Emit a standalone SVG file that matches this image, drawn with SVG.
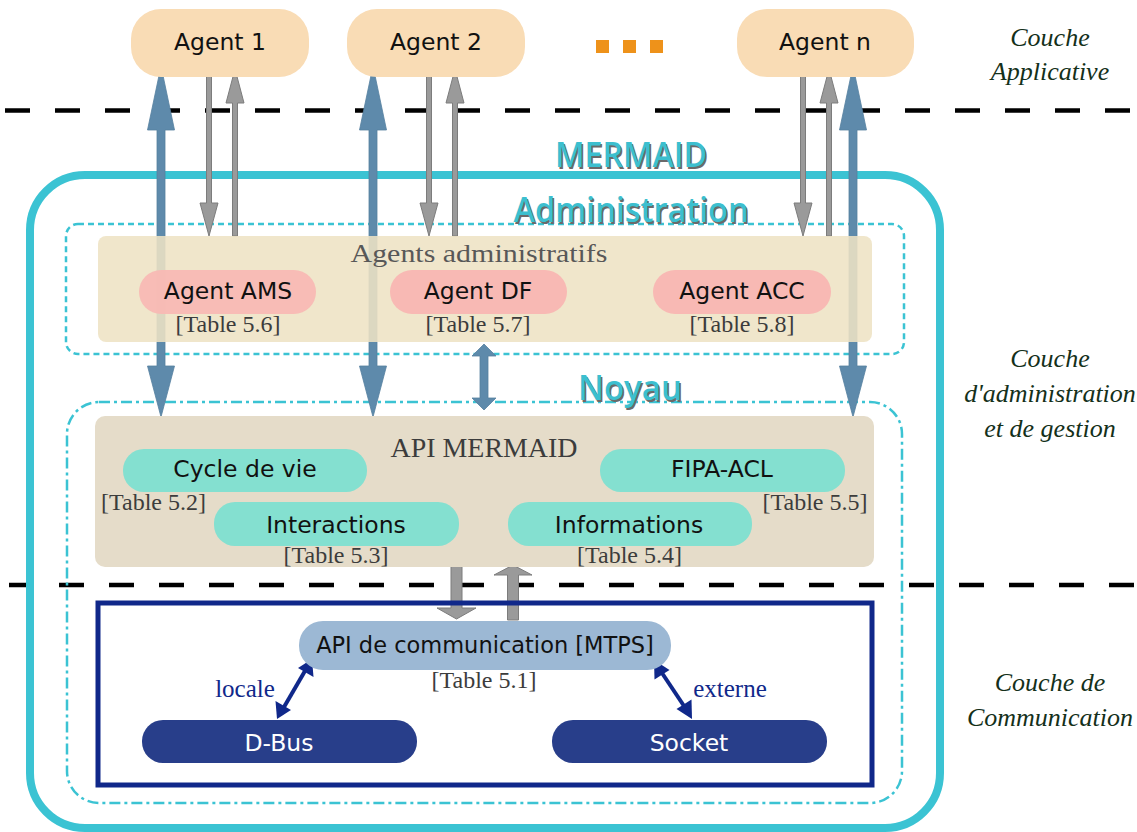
<svg xmlns="http://www.w3.org/2000/svg" width="1137" height="832" viewBox="0 0 1137 832">
<style>
.sans{font-family:"DejaVu Sans","Liberation Sans",sans-serif;font-size:23.5px;fill:#111;text-anchor:middle}
.serif{font-family:"Liberation Serif","DejaVu Serif",serif;fill:#3c3c3c;text-anchor:middle}
.tbl{font-size:24px}
.side{font-family:"Liberation Serif","DejaVu Serif",serif;font-style:italic;font-size:26px;fill:#14301a;text-anchor:middle}
.ttl{font-family:"Open Sans","Lato",sans-serif;font-weight:600;font-size:34px;text-anchor:middle}
.ttlsh{fill:#6a6a6a}
.ttlfg{fill:#3cbfcf}
.dash{stroke:#000;stroke-width:4.5;stroke-dasharray:25 25;fill:none}
.agent{fill:#f9dcb5}
.adm{fill:#f8b9b4}
.api{fill:#84e0d0}
.navy{fill:#283e8a}
.blue{fill:#5e8aab;stroke:#55809f;stroke-width:0.8}
.gray{fill:#9a9a9a;stroke:#7c7c7c;stroke-width:1}
.nav{fill:#10288a}
</style>
<defs>
<path id="bluearrow" d="M-4,130 L-13.5,130 L0,66 L13.5,130 L4,130 L4,366 L13.5,366 L0,417 L-13.5,366 L-4,366 Z"/>
<path id="graydown" d="M-2.5,69 L2.5,69 L2.5,203 L9,203 L0,236 L-9,203 L-2.5,203 Z"/>
<path id="grayup" d="M0,69 L9,103 L2.5,103 L2.5,236 L-2.5,236 L-2.5,103 L-9,103 Z"/>
</defs>
<rect width="1137" height="832" fill="#fff"/>

<!-- layer separators -->
<g id="separators">
<line class="dash" x1="5" y1="110.5" x2="1137" y2="110.5"/>
<line class="dash" x1="9" y1="585" x2="1137" y2="585"/>
</g>

<!-- side labels -->
<g id="layer-labels">
<text class="side" x="1050" y="46">Couche</text>
<text class="side" x="1050" y="80">Applicative</text>
<text class="side" x="1050" y="367">Couche</text>
<text class="side" x="1050" y="402">d'administration</text>
<text class="side" x="1050" y="437">et de gestion</text>
<text class="side" x="1050" y="691">Couche de</text>
<text class="side" x="1050" y="726">Communication</text>
</g>

<!-- MERMAID outer container -->
<g id="mermaid">
<rect x="30" y="175" width="910" height="653" rx="55" fill="none" stroke="#3bc3d3" stroke-width="8"/>
<text class="ttl ttlsh" x="632.5" y="168.5" textLength="152" lengthAdjust="spacingAndGlyphs">MERMAID</text>
<text class="ttl ttlfg" x="631" y="167" textLength="152" lengthAdjust="spacingAndGlyphs">MERMAID</text>
</g>

<!-- Administration container -->
<g id="administration">
<rect x="66" y="224" width="838" height="130" rx="12" fill="none" stroke="#3bc3d3" stroke-width="2.5" stroke-dasharray="6 4"/>
</g>

<!-- Noyau container -->
<g id="noyau">
<rect x="67" y="402" width="835" height="401" rx="32" fill="none" stroke="#3bc3d3" stroke-width="2.5" stroke-dasharray="11 4 3 4"/>
</g>

<!-- connectors -->
<g id="connectors">
<use href="#bluearrow" x="161" class="blue"/>
<use href="#bluearrow" x="373" class="blue"/>
<use href="#bluearrow" x="853" class="blue"/>
<use href="#graydown" x="209" class="gray"/>
<use href="#grayup" x="235" class="gray"/>
<use href="#graydown" x="429" class="gray"/>
<use href="#grayup" x="455" class="gray"/>
<use href="#graydown" x="803" class="gray"/>
<use href="#grayup" x="829" class="gray"/>
<path class="blue" d="M484,344 L496,356 L488,356 L488,398 L496,398 L484,410 L472,398 L480,398 L480,356 L472,356 Z"/>
<path class="gray" d="M451,565 L462,565 L462,608 L476,608 L456.5,619 L437,608 L451,608 Z"/>
<path class="gray" d="M513,565 L532,575 L518.5,575 L518.5,620 L507.5,620 L507.5,575 L494,575 Z"/>
<g id="arrow-locale">
<line x1="282" y1="710.5" x2="307" y2="667.5" stroke="#10288a" stroke-width="4"/>
<path class="nav" d="M312,659 L313.5,677 L298,668 Z"/>
<path class="nav" d="M277,719 L275.5,701 L291,710 Z"/>
</g>
<g id="arrow-externe">
<line x1="659" y1="668.5" x2="687" y2="710.5" stroke="#10288a" stroke-width="4"/>
<path class="nav" d="M654,660 L669.5,670 L654.5,679.5 Z"/>
<path class="nav" d="M692,719 L676.5,709 L691.5,699.5 Z"/>
</g>
</g>

<!-- Application layer agents -->
<g id="agent-1">
<rect class="agent" x="131" y="9" width="178" height="68" rx="30"/>
<text class="sans" x="220" y="50">Agent 1</text>
</g>
<g id="agent-2">
<rect class="agent" x="347" y="9" width="178" height="68" rx="30"/>
<text class="sans" x="436" y="50">Agent 2</text>
</g>
<g id="ellipsis">
<rect x="596" y="40" width="13" height="13" fill="#ee921a"/>
<rect x="623" y="40" width="13" height="13" fill="#ee921a"/>
<rect x="650" y="40" width="13" height="13" fill="#ee921a"/>
</g>
<g id="agent-n">
<rect class="agent" x="737" y="9" width="177" height="68" rx="30"/>
<text class="sans" x="825" y="50">Agent n</text>
</g>

<!-- Administration title (on top of dotted border) -->
<g id="administration-title">
<text class="ttl ttlsh" x="632.5" y="223.5" textLength="235" lengthAdjust="spacingAndGlyphs">Administration</text>
<text class="ttl ttlfg" x="631" y="222" textLength="235" lengthAdjust="spacingAndGlyphs">Administration</text>
</g>

<!-- Agents administratifs -->
<g id="agents-administratifs">
<rect x="98" y="236" width="774" height="106" rx="8" fill="#eee3c4" fill-opacity="0.88"/>
<text class="serif" x="479" y="262" font-size="26" style="fill:#585858" textLength="257" lengthAdjust="spacingAndGlyphs">Agents administratifs</text>
</g>
<g id="agent-ams">
<rect class="adm" x="139" y="270" width="177" height="44" rx="22" fill-opacity="0.95"/>
<text class="sans" x="228" y="299">Agent AMS</text>
<text class="serif tbl" x="228" y="332">[Table 5.6]</text>
</g>
<g id="agent-df">
<rect class="adm" x="390" y="270" width="177" height="44" rx="22"/>
<text class="sans" x="478" y="299">Agent DF</text>
<text class="serif tbl" x="478" y="332">[Table 5.7]</text>
</g>
<g id="agent-acc">
<rect class="adm" x="653" y="270" width="178" height="44" rx="22"/>
<text class="sans" x="742" y="299">Agent ACC</text>
<text class="serif tbl" x="742" y="332">[Table 5.8]</text>
</g>

<!-- Noyau -->
<g id="noyau-title">
<text class="ttl ttlsh" x="631.5" y="401.5" textLength="104" lengthAdjust="spacingAndGlyphs">Noyau</text>
<text class="ttl ttlfg" x="630" y="400" textLength="104" lengthAdjust="spacingAndGlyphs">Noyau</text>
</g>
<g id="api-mermaid">
<rect x="95" y="416" width="779" height="151" rx="10" fill="#e5dcc9"/>
<text class="serif" x="484" y="457" font-size="27" textLength="187" lengthAdjust="spacingAndGlyphs">API MERMAID</text>
</g>
<g id="cycle-de-vie">
<rect class="api" x="123" y="449" width="244" height="43" rx="21"/>
<text class="sans" x="245" y="477">Cycle de vie</text>
<text class="serif tbl" x="153.5" y="510">[Table 5.2]</text>
</g>
<g id="interactions">
<rect class="api" x="214" y="502" width="245" height="44" rx="21"/>
<text class="sans" x="336" y="533">Interactions</text>
<text class="serif tbl" x="336" y="563">[Table 5.3]</text>
</g>
<g id="fipa-acl">
<rect class="api" x="600" y="449" width="245" height="43" rx="21"/>
<text class="sans" x="722" y="477">FIPA-ACL</text>
<text class="serif tbl" x="815" y="510">[Table 5.5]</text>
</g>
<g id="informations">
<rect class="api" x="508" y="502" width="244" height="44" rx="21"/>
<text class="sans" x="629" y="533">Informations</text>
<text class="serif tbl" x="629.5" y="563">[Table 5.4]</text>
</g>

<!-- Communication layer -->
<g id="communication">
<rect x="98" y="603" width="774" height="182" fill="none" stroke="#10288a" stroke-width="5"/>
</g>
<g id="api-communication">
<rect x="299" y="621" width="372" height="49" rx="24" fill="#9cb8d4"/>
<text class="sans" x="485" y="653" style="font-size:22.5px">API de communication [MTPS]</text>
<text class="serif tbl" x="484" y="688">[Table 5.1]</text>
</g>
<g id="label-locale">
<text class="serif" x="245" y="697" font-size="25" style="fill:#10288a">locale</text>
</g>
<g id="label-externe">
<text class="serif" x="730" y="697" font-size="25" style="fill:#10288a">externe</text>
</g>
<g id="d-bus">
<rect class="navy" x="142" y="720" width="275" height="43" rx="21"/>
<text class="sans" x="279" y="751" style="fill:#fff">D-Bus</text>
</g>
<g id="socket">
<rect class="navy" x="552" y="720" width="275" height="43" rx="21"/>
<text class="sans" x="689" y="751" style="fill:#fff">Socket</text>
</g>
</svg>
